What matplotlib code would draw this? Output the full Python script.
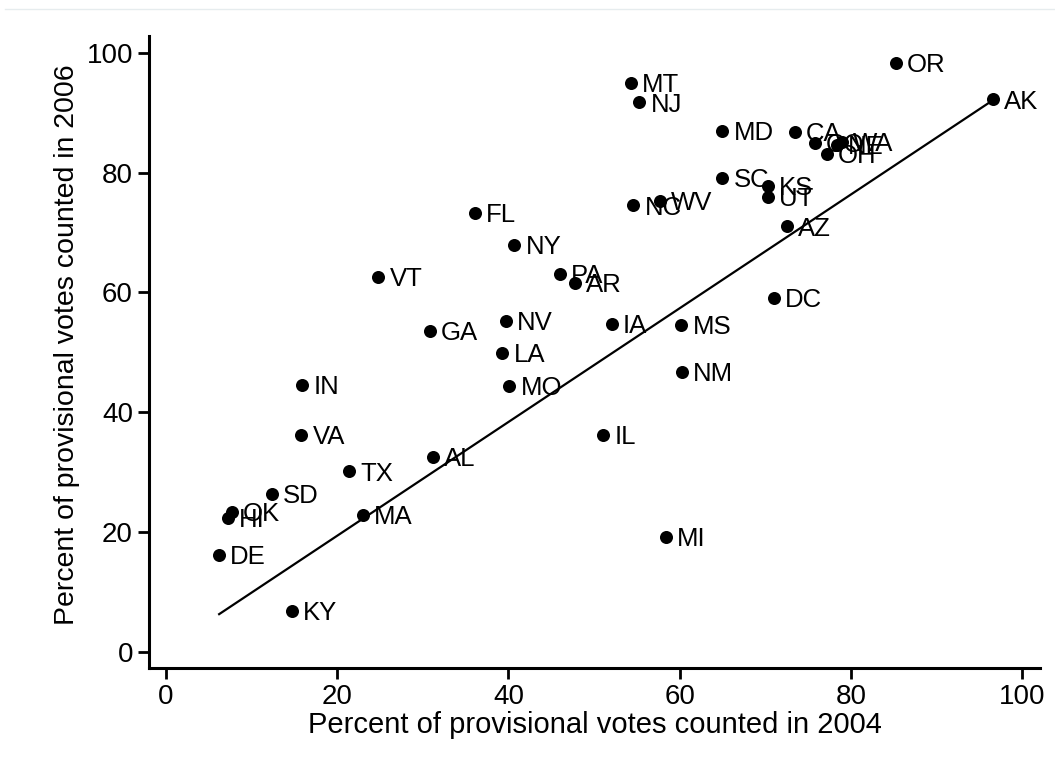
import numpy as np
import matplotlib
matplotlib.use("Agg")
import matplotlib.pyplot as plt
from matplotlib.lines import Line2D

plt.rcParams["font.family"] = ["Liberation Sans", "DejaVu Sans"]

# ---------------------------------------------------------------------------
# Data: percent of provisional votes counted, by state
# ---------------------------------------------------------------------------
states = ["OR", "AK", "MT", "NJ", "MD", "CA", "CO", "NE", "WA", "OH",
          "SC", "KS", "UT", "AZ", "WV", "NC", "FL", "NY", "VT", "PA",
          "AR", "DC", "GA", "NV", "IA", "MS", "LA", "IN", "NM", "MO",
          "IL", "VA", "TX", "AL", "SD", "OK", "HI", "MA", "MI", "DE", "KY"]
pct_2004 = [85.3, 96.6, 54.3, 55.3, 65.0, 73.5, 75.8, 78.4, 79.0, 77.2,
            65.0, 70.3, 70.3, 72.5, 57.7, 54.6, 36.1, 40.7, 24.8, 46.0,
            47.8, 71.0, 30.8, 39.7, 52.1, 60.2, 39.3, 15.9, 60.3, 40.1,
            51.1, 15.8, 21.4, 31.2, 12.4, 7.7, 7.2, 23.0, 58.4, 6.2, 14.7]
pct_2006 = [98.3, 92.2, 95.0, 91.7, 87.0, 86.8, 85.0, 84.6, 85.1, 83.1,
            79.1, 77.8, 76.0, 71.0, 75.3, 74.5, 73.3, 67.9, 62.6, 63.1,
            61.6, 59.1, 53.6, 55.3, 54.8, 54.6, 49.9, 44.6, 46.7, 44.4,
            36.2, 36.2, 30.1, 32.6, 26.4, 23.4, 22.4, 22.9, 19.2, 16.2, 6.8]
ticks = [0, 20, 40, 60, 80, 100]

# fitted line as drawn in the original
fit_slope = 0.949
fit_intercept = 0.4

x = np.array(pct_2004)
y = np.array(pct_2006)

# ---------------------------------------------------------------------------
# Plot
# ---------------------------------------------------------------------------
fig = plt.figure(figsize=(10.55, 7.75), dpi=100)
ax = fig.add_axes([0.1412, 0.1381, 0.8445, 0.8155])

ax.scatter(x, y, s=88, color="black", zorder=3, linewidths=0)
for st, xi, yi in zip(states, x, y):
    ax.annotate(st, (xi, yi), xytext=(8, -1.5), textcoords="offset points",
                fontsize=18.5, va="center", ha="left")

xs = np.array([x.min(), x.max() - 0.3])
ax.plot(xs, fit_intercept + fit_slope * xs, color="black", lw=1.6)

ax.set_xlim(-2.0, 102.1)
ax.set_ylim(-2.7, 102.8)
ax.set_xticks(ticks)
ax.set_yticks(ticks)
ax.tick_params(labelsize=20, width=2, length=8, color="black")
for side in ["top", "right"]:
    ax.spines[side].set_visible(False)
for side in ["left", "bottom"]:
    ax.spines[side].set_linewidth(2.2)

ax.set_xlabel("Percent of provisional votes counted in 2004", fontsize=21, labelpad=1)
ax.set_ylabel("Percent of provisional votes counted in 2006", fontsize=20.5, labelpad=5)
ax.yaxis.label.set_y(0.512)

# faint rule across the top of the page
fig.add_artist(Line2D([0.005, 1.0], [0.988, 0.988], transform=fig.transFigure,
                      color="#e6ecee", lw=1))

fig.savefig("out.png", dpi=100)
